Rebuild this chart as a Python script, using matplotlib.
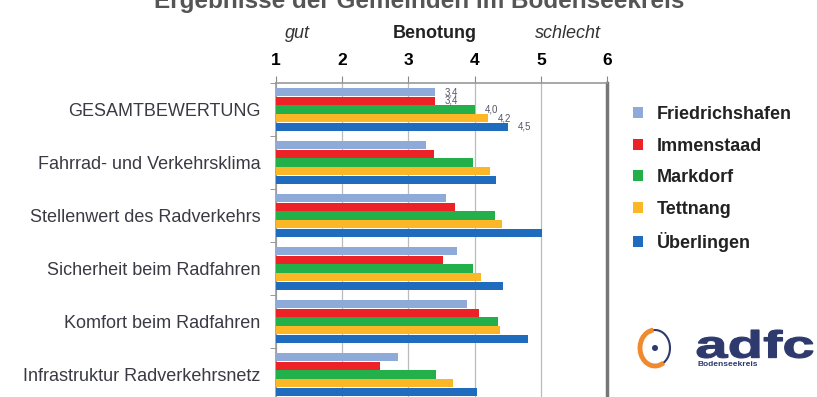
import numpy as np
import matplotlib
matplotlib.use("Agg")
import matplotlib.pyplot as plt
from matplotlib.patches import Patch, Arc, Circle, PathPatch
from matplotlib.textpath import TextPath
from matplotlib.font_manager import FontProperties
from matplotlib.transforms import Affine2D

plt.rcParams['font.family'] = ['Liberation Sans', 'DejaVu Sans']

categories = ["GESAMTBEWERTUNG",
              "Fahrrad- und Verkehrsklima",
              "Stellenwert des Radverkehrs",
              "Sicherheit beim Radfahren",
              "Komfort beim Radfahren",
              "Infrastruktur Radverkehrsnetz"]

towns = ["Friedrichshafen", "Immenstaad", "Markdorf", "Tettnang", "Überlingen"]

friedrichshafen = [3.4, 3.27, 3.57, 3.74, 3.88, 2.84]
immenstaad = [3.4, 3.38, 3.70, 3.52, 4.06, 2.57]
markdorf = [4.0, 3.98, 4.31, 3.98, 4.36, 3.41]
tettnang = [4.2, 4.24, 4.41, 4.09, 4.38, 3.67]
ueberlingen = [4.5, 4.33, 5.02, 4.43, 4.80, 4.04]

palette = ["#8eaad8", "#ec2227", "#23b04b", "#fbb726", "#1f6cbf"]

grades = [1, 2, 3, 4, 5, 6]

series = [friedrichshafen, immenstaad, markdorf, tettnang, ueberlingen]

fig = plt.figure(figsize=(8.17, 3.97), dpi=100)
ax = fig.add_axes([276/817, 1 - 401/397, 331/817, 318/397])

y = np.arange(len(categories))
h = 0.162
for i, (vals, col) in enumerate(zip(series, palette)):
    off = (i - 2) * h
    ax.barh(y + off, np.array(vals) - 1, left=1, height=h * 0.95,
            color=col, edgecolor='none', zorder=3)
    # value labels only for the overall rating
    ax.text(vals[0] + 0.15, y[0] + off, f"{vals[0]:.1f}".replace('.', ','),
            fontsize=7, color='#555566', va='center', ha='left', zorder=4)

ax.set_xlim(1, 6)
ax.set_ylim(len(categories) - 0.5, -0.5)
ax.xaxis.tick_top()
ax.set_xticks(grades)
ax.set_xticklabels([str(g) for g in grades], fontsize=12.5, fontweight='bold')
ax.tick_params(axis='x', length=5, width=0.8, color='#888888', pad=6)
ax.grid(axis='x', color='#bbbbbb', linewidth=0.9, zorder=0)

ax.set_yticks(y)
ax.set_yticklabels(categories, fontsize=13, color='#3a3a44')
ax.tick_params(axis='y', length=0, pad=11)
ax.set_yticks(np.arange(len(categories) + 1) - 0.5, minor=True)
ax.tick_params(axis='y', which='minor', length=4, color='#888888')

for s in ['left', 'top']:
    ax.spines[s].set_color('#999999')
    ax.spines[s].set_linewidth(1.2)
ax.spines['right'].set_color('#777777')
ax.spines['right'].set_linewidth(2.5)
ax.spines['bottom'].set_visible(False)

fig.text(297/817, 1 - 33/397, "gut", fontsize=13, style='italic', ha='center', va='center', color='#333333')
fig.text(435/817, 1 - 33/397, "Benotung", fontsize=13, fontweight='bold', ha='center', va='center', color='#222222')
fig.text(568/817, 1 - 33/397, "schlecht", fontsize=13, style='italic', ha='center', va='center', color='#333333')

# title, cut by the top edge like in the scan
fig.text(419/817, 1 - 8/397, "Ergebnisse der Gemeinden im Bodenseekreis",
         fontsize=17.5, fontweight='bold', color='#555555', ha='center', va='baseline')

handles = [Patch(facecolor=c, edgecolor='none') for c in palette]
leg = fig.legend(handles, towns, loc='upper left', bbox_to_anchor=(617/817, 1 - 90/397),
                 frameon=False, handlelength=0.55, handleheight=0.55, handletextpad=0.75,
                 labelspacing=0.8, prop={'size': 13, 'weight': 'bold'})
for t in leg.get_texts():
    t.set_color('#222222')

# adfc logo
lg = fig.add_axes([630/817, 1 - 372/397, 187/817, 52/397])
lg.set_xlim(0, 187)
lg.set_ylim(0, 52)
lg.axis('off')
lg.add_patch(Arc((25, 24), 30, 36, theta1=95, theta2=300, color='#ef8a2e', lw=3.5))
lg.add_patch(Arc((25, 24), 30, 36, theta1=300, theta2=455, color='#2e3a6e', lw=1.5))
lg.add_patch(Circle((25, 24), 2.3, color='#2e3a6e'))
tp = TextPath((0, 0), "adfc", size=1, prop=FontProperties(family='Liberation Sans', weight='bold'))
ext = tp.get_extents()
tr = Affine2D().translate(-ext.x0, -ext.y0).scale(116 / ext.width, 28 / ext.height).translate(67, 14)
lg.add_patch(PathPatch(tr.transform_path(tp), facecolor='#2e3a6e', edgecolor='#2e3a6e', lw=0.8))
lg.text(67, 7.5, "Bodenseekreis", fontsize=6, fontweight='bold', color='#2e3a6e', va='center', ha='left')

fig.savefig('out.png', dpi=100)
